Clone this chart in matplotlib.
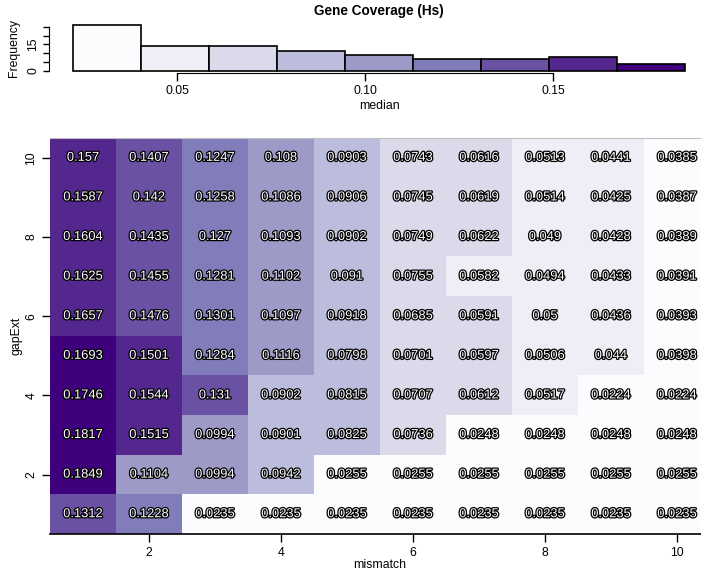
import numpy as np
import matplotlib
matplotlib.use("Agg")
import matplotlib.pyplot as plt
from matplotlib.colors import ListedColormap
import matplotlib.patheffects as pe

plt.rcParams['font.family'] = ['Liberation Sans', 'DejaVu Sans']

# Median gene coverage, rows = gapExt 10 .. 1, columns = mismatch 1 .. 10
gap_ext = [10, 9, 8, 7, 6, 5, 4, 3, 2, 1]
mismatch = [1, 2, 3, 4, 5, 6, 7, 8, 9, 10]
g10 = [0.157, 0.1407, 0.1247, 0.108, 0.0903, 0.0743, 0.0616, 0.0513, 0.0441, 0.0385]
g9 = [0.1587, 0.142, 0.1258, 0.1086, 0.0906, 0.0745, 0.0619, 0.0514, 0.0425, 0.0387]
g8 = [0.1604, 0.1435, 0.127, 0.1093, 0.0902, 0.0749, 0.0622, 0.049, 0.0428, 0.0389]
g7 = [0.1625, 0.1455, 0.1281, 0.1102, 0.091, 0.0755, 0.0582, 0.0494, 0.0433, 0.0391]
g6 = [0.1657, 0.1476, 0.1301, 0.1097, 0.0918, 0.0685, 0.0591, 0.05, 0.0436, 0.0393]
g5 = [0.1693, 0.1501, 0.1284, 0.1116, 0.0798, 0.0701, 0.0597, 0.0506, 0.044, 0.0398]
g4 = [0.1746, 0.1544, 0.131, 0.0902, 0.0815, 0.0707, 0.0612, 0.0517, 0.0224, 0.0224]
g3 = [0.1817, 0.1515, 0.0994, 0.0901, 0.0825, 0.0736, 0.0248, 0.0248, 0.0248, 0.0248]
g2 = [0.1849, 0.1104, 0.0994, 0.0942, 0.0255, 0.0255, 0.0255, 0.0255, 0.0255, 0.0255]
g1 = [0.1312, 0.1228, 0.0235, 0.0235, 0.0235, 0.0235, 0.0235, 0.0235, 0.0235, 0.0235]

purples = ["#FCFBFD", "#EFEDF5", "#DADAEB", "#BCBDDC", "#9E9AC8",
           "#807DBA", "#6A51A3", "#54278F", "#3F007D"]

grid = np.array([g10, g9, g8, g7, g6, g5, g4, g3, g2, g1])
values = grid.ravel()

n_bins = len(purples)
edges = np.linspace(values.min(), values.max(), n_bins + 1)
bin_index = np.clip(np.searchsorted(edges, grid, side='left') - 1, 0, n_bins - 1)
cmap = ListedColormap(purples)

fig = plt.figure(figsize=(7.01, 5.75), dpi=100)

# ---- histogram of medians ----
axh = fig.add_axes([0.0699, 0.8734, 0.9415, 0.0864])
counts, _, patches = axh.hist(values, bins=edges, edgecolor='black', linewidth=1.2)
for k, p in enumerate(patches):
    p.set_facecolor(purples[k])
span = edges[-1] - edges[0]
axh.set_xlim(edges[0] - 0.04 * span, edges[-1] + 0.04 * span)
ytop = counts.max()
axh.set_ylim(-0.04 * ytop, 1.04 * ytop)
for s in ['top', 'right']:
    axh.spines[s].set_visible(False)
axh.spines['bottom'].set_bounds(0.05, 0.15)
axh.spines['left'].set_bounds(0, 25)
axh.set_xticks([0.05, 0.10, 0.15])
axh.set_xticklabels(['0.05', '0.10', '0.15'], fontsize=8.8)
axh.set_yticks([0, 5, 10, 15, 20, 25])
axh.set_yticklabels(['0', '', '', '15', '', ''], fontsize=8.8, rotation=90, va='center')
axh.tick_params(axis='x', length=6, width=1, pad=3)
axh.tick_params(axis='y', length=4, width=1, pad=3)
axh.set_xlabel('median', fontsize=8.8, labelpad=2)
axh.set_ylabel('Frequency', fontsize=8.8, labelpad=5)
axh.set_title('Gene Coverage (Hs)', fontsize=9.8, fontweight='bold', pad=6)

# ---- heatmap ----
ax = fig.add_axes([0.0713, 0.0713, 0.9415, 0.6887])
ax.imshow(bin_index[::-1], cmap=cmap, vmin=-0.5, vmax=n_bins - 0.5,
          extent=(0.5, 10.5, 0.5, 10.5), origin='lower', aspect='auto',
          interpolation='nearest')
outline = [pe.withStroke(linewidth=1.8, foreground='black')]
for i, g in enumerate(gap_ext):
    for j, m in enumerate(mismatch):
        v = grid[i, j]
        ax.text(m, g, '{:g}'.format(round(v, 4)), ha='center', va='center',
                fontsize=9.3, color='white', path_effects=outline)
ax.set_xlim(0.5, 10.5)
ax.set_ylim(0.5, 10.5)
ax.spines['left'].set_visible(False)
ax.spines['right'].set_visible(False)
ax.spines['top'].set_color('#BEBEBE')
ax.spines['bottom'].set_linewidth(1.2)
ax.set_xticks([2, 4, 6, 8, 10])
ax.set_yticks([2, 4, 6, 8, 10])
ax.set_xticklabels(['2', '4', '6', '8', '10'], fontsize=8.8)
ax.set_yticklabels(['2', '4', '6', '8', '10'], fontsize=8.8, rotation=90, va='center')
ax.tick_params(axis='both', length=6, width=1, pad=3)
ax.set_xlabel('mismatch', fontsize=8.8, labelpad=0)
ax.set_ylabel('gapExt', fontsize=8.8, labelpad=2)

fig.savefig('out.png', dpi=100)
